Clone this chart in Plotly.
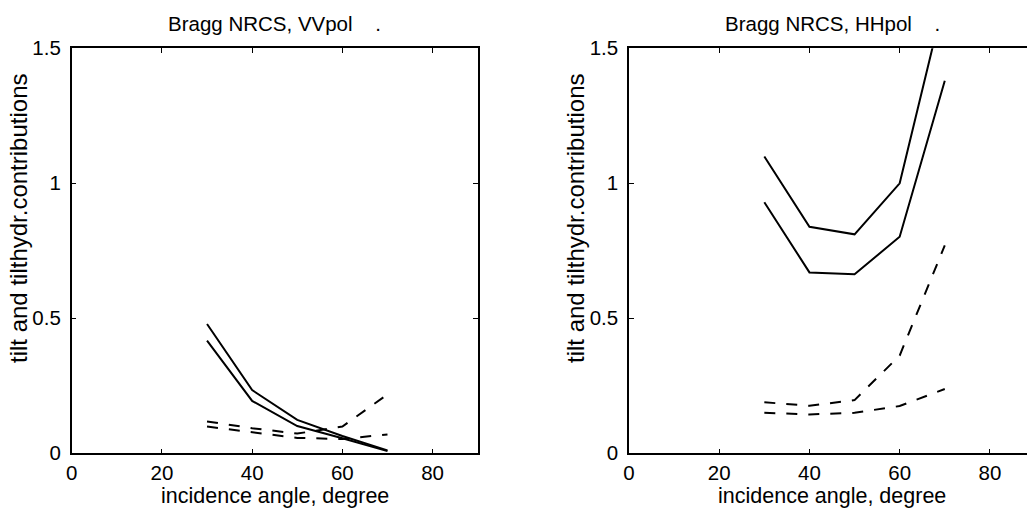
import plotly.graph_objects as go

angles = [30, 40, 50, 60, 70]

# VV polarization
vv_solid_upper = [0.479, 0.234, 0.124, 0.064, 0.011]
vv_solid_lower = [0.417, 0.194, 0.101, 0.056, 0.008]
vv_dash_upper = [0.118, 0.093, 0.073, 0.099, 0.218]
vv_dash_lower = [0.099, 0.079, 0.057, 0.053, 0.070]

# HH polarization
hh_solid_upper = [1.099, 0.839, 0.811, 1.000, 1.69]
hh_solid_lower = [0.930, 0.670, 0.663, 0.802, 1.380]
hh_dash_upper = [0.189, 0.176, 0.197, 0.362, 0.770]
hh_dash_lower = [0.150, 0.144, 0.150, 0.175, 0.238]

x_ticks = [0, 20, 40, 60, 80]
y_ticks = [0, 0.5, 1, 1.5]
y_ticklabels = ["0", "0.5", "1", "1.5"]

titles = ["Bragg NRCS, VVpol\u00a0\u00a0\u00a0 .", "Bragg NRCS, HHpol\u00a0\u00a0\u00a0 ."]
xlabel = "incidence angle, degree"
ylabel = "tilt and tilthydr.contributions"

W, H = 1027, 509
FONT = "Liberation Sans, Arial, Helvetica, sans-serif"
FS = 20.5

fig = go.Figure()

def add(xa, ya, ys, dash):
    fig.add_trace(go.Scatter(
        x=angles, y=ys, mode="lines", xaxis=xa, yaxis=ya,
        line=dict(color="black", width=2, dash=dash),
        showlegend=False, hoverinfo="skip", cliponaxis=True))

DASH = "11px,11px"
for ys in [vv_solid_upper, vv_solid_lower]:
    add("x", "y", ys, "solid")
for ys in [vv_dash_upper, vv_dash_lower]:
    add("x", "y", ys, DASH)
for ys in [hh_solid_upper, hh_solid_lower]:
    add("x2", "y2", ys, "solid")
for ys in [hh_dash_upper, hh_dash_lower]:
    add("x2", "y2", ys, DASH)

# pixel geometry
left_l, left_r = 71.7, 477.7
right_l = 629.0
px_per_unit = (left_r - left_l) / 90.0
right_range_max = (W - right_l) / px_per_unit
top_px, bot_px = 48.3, 453.3
ydom = [(H - bot_px) / H, (H - top_px) / H]

axis_common = dict(
    showgrid=False, zeroline=False, showline=True, linecolor="black", linewidth=1.5,
    ticks="inside", ticklen=5, tickwidth=1, tickcolor="black", automargin=False,
    tickfont=dict(family=FONT, size=FS, color="black"),
)

fig.update_layout(
    template="none",
    width=W, height=H,
    margin=dict(l=0, r=0, t=0, b=0, pad=0),
    paper_bgcolor="white", plot_bgcolor="white",
    font=dict(family=FONT, size=FS, color="black"),
    xaxis=dict(domain=[left_l / W, left_r / W], range=[0, 90], tickvals=x_ticks,
               mirror="ticks", anchor="y", ticklabelstandoff=0, **axis_common),
    yaxis=dict(domain=ydom, range=[0, 1.5], tickvals=y_ticks, ticktext=y_ticklabels,
               mirror="ticks", anchor="x", ticklabelstandoff=5, **axis_common),
    xaxis2=dict(domain=[right_l / W, 1.0], range=[0, right_range_max], tickvals=x_ticks,
                mirror="ticks", anchor="y2", ticklabelstandoff=0, **axis_common),
    yaxis2=dict(domain=ydom, range=[0, 1.5], tickvals=y_ticks, ticktext=y_ticklabels,
                mirror=False, anchor="x2", ticklabelstandoff=5, **axis_common),
)

annos = []
centers = [(left_l + left_r) / 2, right_l + 45 * px_per_unit]
ylab_x = [18, 575]
for i in range(2):
    annos.append(dict(text=titles[i], x=centers[i] / W, y=1 - 24 / H, xref="paper", yref="paper",
                      xanchor="center", yanchor="middle", showarrow=False,
                      font=dict(family=FONT, size=FS, color="black")))
    annos.append(dict(text=xlabel, x=(centers[i]) / W, y=1 - 496 / H, xref="paper", yref="paper",
                      xanchor="center", yanchor="middle", showarrow=False,
                      font=dict(family=FONT, size=21.5, color="black")))
    annos.append(dict(text=ylabel, x=ylab_x[i] / W, y=1 - 218 / H, xref="paper", yref="paper",
                      xanchor="center", yanchor="middle", showarrow=False, textangle=-90,
                      font=dict(family=FONT, size=24, color="black")))
fig.update_layout(annotations=annos)

fig.write_html("out.html")
